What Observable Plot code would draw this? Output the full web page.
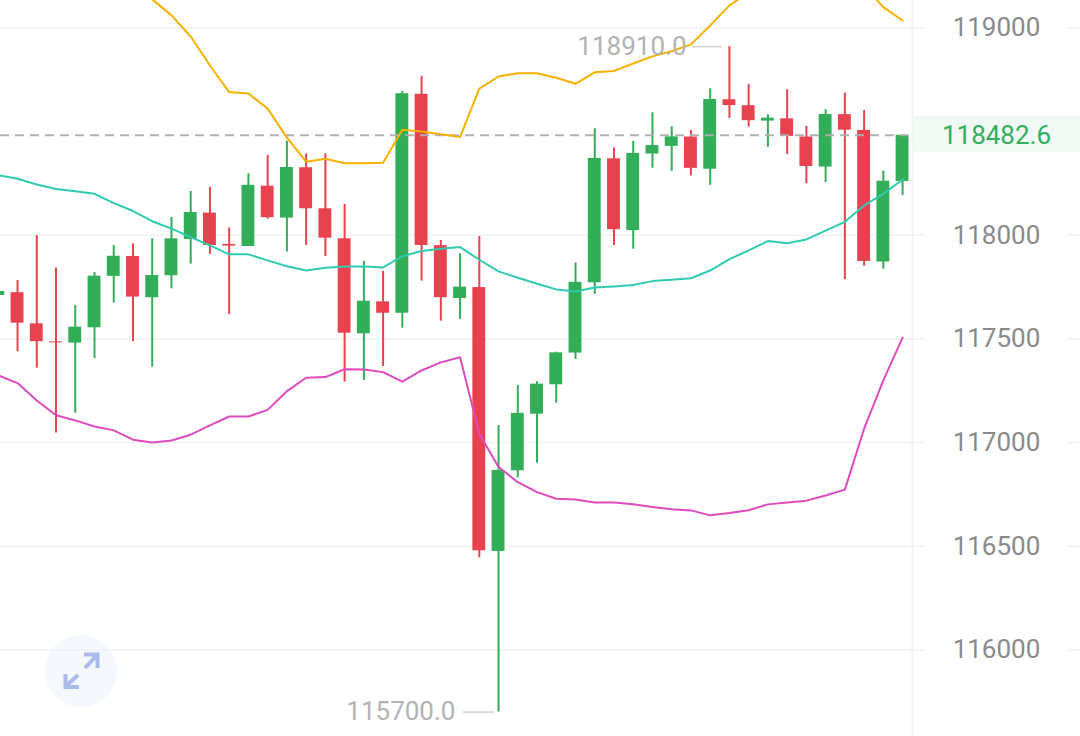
<!DOCTYPE html>
<html>
<head>
<meta charset="utf-8">
<script src="https://cdn.jsdelivr.net/npm/d3@7"></script>
<script src="https://cdn.jsdelivr.net/npm/@observablehq/plot@0.6"></script>
<style>
html,body{margin:0;padding:0;background:#fff;overflow:hidden}
#wrap{position:relative;width:1080px;height:736px}
#wrap svg{display:block}
#icon{position:absolute;left:0;top:0;pointer-events:none}
</style>
</head>
<body>
<div id="wrap"></div>
<script>
const opens  = [117710,117723,117573,117486,117480,117554,117802,117898,117699,117805,117980,118107,117956,117946,118237,118083,118326,118128,117983,117525,117679,117624,118680,117950,117695,117748,116475,116864,117137,117279,117432,117771,118369,118023,118392,118429,118474,118319,118654,118625,118551,118562,118474,118329,118582,118506,117871,118260];
const closes = [117729,117576,117487,117481,117557,117803,117899,117702,117806,117983,118110,117951,117948,118241,118085,118327,118128,117986,117528,117682,117624,118683,117951,117699,117750,116478,116866,117141,117282,117433,117773,118371,118027,118395,118433,118475,118323,118655,118626,118553,118565,118477,118332,118583,118507,117874,118261,118482.6];
const highs  = [117729,117782,117999,117842,117662,117821,117951,117959,117983,118086,118212,118231,118035,118297,118385,118454,118393,118393,118149,117875,117826,118694,118766,117975,117911,117994,117083,117276,117294,117436,117866,118514,118422,118453,118591,118524,118506,118707,118910,118728,118582,118702,118525,118606,118686,118602,118310,118482.6];
const lows   = [117710,117438,117359,117046,117142,117405,117673,117487,117364,117742,117861,117908,117618,117946,118078,117919,117951,117898,117292,117300,117367,117552,117779,117586,117594,116445,115700,116830,116901,117190,117401,117715,117951,117933,118324,118308,118287,118241,118564,118522,118424,118390,118249,118254,117786,117851,117837,118192];
const upper  = [null,null,null,null,null,null,null,119191,119138,119061,118959,118819,118691,118684,118611,118471,118355,118369,118348,118347,118350,118509,118501,118487,118474,118708,118766,118782,118782,118760,118731,118786,118793,118829,118863,118888,118921,119012,119109,119172,119201,119215,119220,119220,119215,119201,119101,119036];
const middle = [118290,118273,118245,118223,118213,118200,118155,118117,118068,118032,117991,117951,117908,117908,117879,117851,117830,117843,117850,117850,117845,117899,117924,117935,117943,117882,117826,117795,117766,117739,117729,117748,117753,117760,117779,117786,117793,117830,117885,117927,117972,117962,117980,118023,118065,118144,118200,118269];
const lower  = [117324,117287,117203,117132,117107,117078,117059,117014,117001,117010,117038,117083,117126,117126,117158,117248,117313,117316,117354,117353,117340,117294,117348,117387,117412,117043,116882,116809,116761,116729,116726,116711,116711,116703,116689,116679,116673,116649,116660,116674,116702,116711,116720,116745,116773,117067,117300,117506];
const yTicks = [119000,118000,117500,117000,116500,116000];
const lastPrice = 118482.6;
const maxPrice = 118910;
const minPrice = 115700;

const RED = "#e8424f", GREEN = "#31ae57", ORANGE = "#f6b100", TEAL = "#2fcbb0", MAGENTA = "#df4abd";
const FONT = "Roboto, sans-serif";

const candles = opens.map((o, i) => ({
  i, open: o, close: closes[i], high: highs[i], low: lows[i],
  up: closes[i] >= o, upper: upper[i], middle: middle[i], lower: lower[i]
}));
const color = d => d.up ? GREEN : RED;

const chart = Plot.plot({
  width: 1080, height: 736,
  marginTop: 0, marginRight: 0, marginBottom: 0, marginLeft: 0,
  style: {background: "#fff", fontFamily: FONT},
  x: {axis: null, type: "linear", domain: [0.114, 56.247], range: [0, 1080]},
  y: {axis: null, type: "linear", domain: [119132.7, 115582.2], range: [0, 736]},
  marks: [
    Plot.rect([lastPrice], {x1: 47.52, x2: 56.247, y1: 118573, y2: 118400, fill: "#f0f9f3"}),
    Plot.ruleY(yTicks, {x1: 0.114, x2: 48.14, stroke: "#f1f1f1", strokeWidth: 1.5}),
    Plot.ruleY(yTicks, {x1: 55.62, x2: 56.247, stroke: "#f1f1f1", strokeWidth: 1.5}),
    Plot.ruleX([47.52], {y1: 119132.7, y2: 115582.2, stroke: "#f3f3f3", strokeWidth: 2}),

    Plot.ruleX(candles, {x: "i", y1: "low", y2: "high", stroke: color, strokeWidth: 2}),
    Plot.rect(candles, {
      x1: d => d.i - 0.335, x2: d => d.i + 0.335,
      y1: "open", y2: "close", fill: color
    }),

    Plot.ruleY([lastPrice], {x1: 0.114, x2: 47.3, stroke: "#aeaeae", strokeWidth: 2, strokeDasharray: "9,6", strokeOpacity: 0.95}),

    Plot.line(candles.filter(d => d.upper != null), {x: "i", y: "upper", stroke: ORANGE, strokeWidth: 2}),
    Plot.line(candles, {x: "i", y: "middle", stroke: TEAL, strokeWidth: 2}),
    Plot.line(candles, {x: "i", y: "lower", stroke: MAGENTA, strokeWidth: 2}),

    Plot.ruleY([maxPrice], {x1: 36.08, x2: 37.64, stroke: "#cfcfcf", strokeWidth: 1.5}),
    Plot.ruleY([minPrice], {x1: 24.18, x2: 25.79, stroke: "#cfcfcf", strokeWidth: 1.5}),
    Plot.text([maxPrice], {x: 35.77, y: d => d, text: d => d.toFixed(1), textAnchor: "end", fill: "#b3b3b3", fontSize: 26}),
    Plot.text([minPrice], {x: 23.76, y: d => d, text: d => d.toFixed(1), textAnchor: "end", fill: "#b3b3b3", fontSize: 26}),

    Plot.text(yTicks, {x: 51.88, y: d => d, text: d => String(d), fill: "#8a8a8a", fontSize: 26}),
    Plot.text([lastPrice], {x: 51.88, y: d => d, text: d => d.toFixed(1), fill: "#33ae5e", fontSize: 26})
  ]
});
const wrap = document.getElementById("wrap");
wrap.appendChild(chart);

wrap.insertAdjacentHTML("beforeend", `
<svg id="icon" width="1080" height="736" viewBox="0 0 1080 736" fill="none" stroke="#a9bce9" stroke-width="4">
  <circle cx="81" cy="671" r="36" fill="#e4ecf9" fill-opacity="0.42" stroke="none"/>
  <path d="M85 668L97 655M84 654.5H97.5V668"/>
  <path d="M78 675L66 686M65.5 674V687H79"/>
</svg>`);
</script>
</body>
</html>
